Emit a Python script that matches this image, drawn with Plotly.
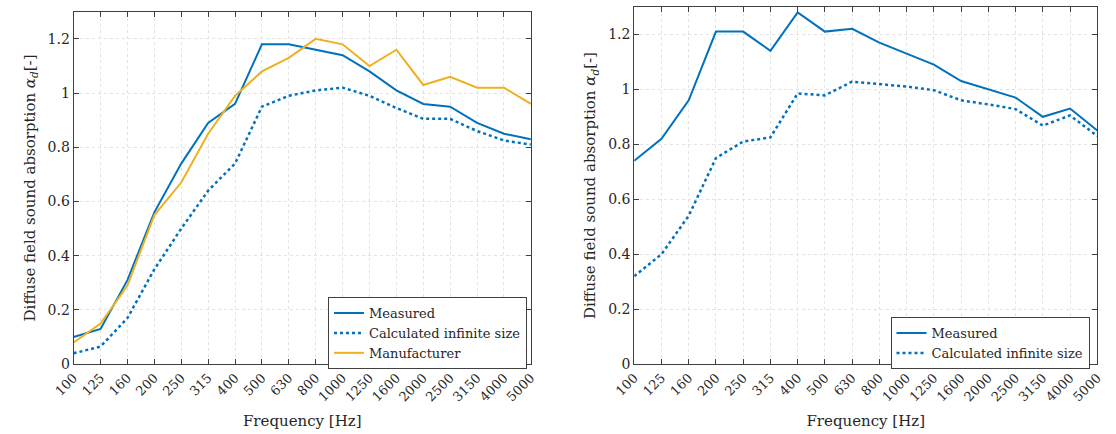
import plotly.graph_objects as go

freqs = ["100", "125", "160", "200", "250", "315", "400", "500", "630", "800",
         "1000", "1250", "1600", "2000", "2500", "3150", "4000", "5000"]

left_measured = [0.10, 0.13, 0.31, 0.56, 0.74, 0.89, 0.96, 1.18, 1.18, 1.16,
                 1.14, 1.08, 1.01, 0.96, 0.95, 0.89, 0.85, 0.83]
left_calculated = [0.04, 0.065, 0.17, 0.35, 0.50, 0.64, 0.74, 0.95, 0.99, 1.01,
                   1.02, 0.99, 0.945, 0.905, 0.905, 0.86, 0.825, 0.81]
left_manufacturer = [0.08, 0.15, 0.29, 0.55, 0.67, 0.85, 0.99, 1.08, 1.13, 1.20,
                     1.18, 1.10, 1.16, 1.03, 1.06, 1.02, 1.02, 0.96]

right_measured = [0.74, 0.82, 0.96, 1.21, 1.21, 1.14, 1.28, 1.21, 1.22, 1.17,
                  1.13, 1.09, 1.03, 1.00, 0.97, 0.90, 0.93, 0.85]
right_calculated = [0.32, 0.40, 0.54, 0.75, 0.81, 0.825, 0.985, 0.978, 1.028, 1.02,
                    1.01, 0.997, 0.96, 0.945, 0.928, 0.868, 0.905, 0.83]

y_tickvals = [0, 0.2, 0.4, 0.6, 0.8, 1.0, 1.2]
y_ticktext = ["0", "0.2", "0.4", "0.6", "0.8", "1", "1.2"]

BLUE = "#0072BD"
YELLOW = "#EDB120"
FONT = "'DejaVu Serif', 'Liberation Serif', serif"
AXCOL = "#404040"
TXT = "#262626"

fig = go.Figure()

fig.add_trace(go.Scatter(x=freqs, y=left_measured, mode="lines", name="Measured",
                         line=dict(color=BLUE, width=2), xaxis="x", yaxis="y", legend="legend"))
fig.add_trace(go.Scatter(x=freqs, y=left_calculated, mode="lines", name="Calculated infinite size",
                         line=dict(color=BLUE, width=2.5, dash="dot"), xaxis="x", yaxis="y", legend="legend"))
fig.add_trace(go.Scatter(x=freqs, y=left_manufacturer, mode="lines", name="Manufacturer",
                         line=dict(color=YELLOW, width=2), xaxis="x", yaxis="y", legend="legend"))

fig.add_trace(go.Scatter(x=freqs, y=right_measured, mode="lines", name="Measured",
                         line=dict(color=BLUE, width=2), xaxis="x2", yaxis="y2", legend="legend2"))
fig.add_trace(go.Scatter(x=freqs, y=right_calculated, mode="lines", name="Calculated infinite size",
                         line=dict(color=BLUE, width=2.5, dash="dot"), xaxis="x2", yaxis="y2", legend="legend2"))

W, H = 1116, 434

def xax(domain, anchor):
    return dict(domain=domain, anchor=anchor, type="category", range=[0, 17],
                categoryorder="array", categoryarray=freqs,
                tickangle=-45, ticks="inside", ticklen=5, tickcolor=AXCOL,
                showline=True, linecolor=AXCOL, linewidth=1, mirror="ticks",
                showgrid=True, gridcolor="#e3e3e3", griddash="dot", gridwidth=1,
                zeroline=False,
                tickfont=dict(family=FONT, size=13, color=TXT),
                title=dict(text="Frequency [Hz]", font=dict(family=FONT, size=15, color=TXT),
                           standoff=12))

def yax(domain, anchor):
    return dict(domain=domain, anchor=anchor, range=[0, 1.3],
                tickvals=y_tickvals, ticktext=y_ticktext,
                ticks="inside", ticklen=5, tickcolor=AXCOL,
                showline=True, linecolor=AXCOL, linewidth=1, mirror="ticks",
                showgrid=True, gridcolor="#e3e3e3", griddash="dot", gridwidth=1,
                zeroline=False,
                tickfont=dict(family=FONT, size=14, color=TXT),
                title=dict(text="Diffuse field sound absorption <i>α<sub>d</sub></i>[-]",
                           font=dict(family=FONT, size=15, color=TXT), standoff=8))

legend_common = dict(bgcolor="white", bordercolor="#404040", borderwidth=1,
                     font=dict(family=FONT, size=13, color=TXT),
                     xanchor="right", yanchor="bottom", tracegroupgap=0,
                     itemwidth=30)

fig.update_layout(
    width=W, height=H,
    margin=dict(l=0, r=0, t=0, b=0),
    paper_bgcolor="white", plot_bgcolor="white",
    font=dict(family=FONT, color=TXT),
    xaxis=xax([54 / W, 523 / W], "y"),
    yaxis=yax([(H - 371) / H, 1 - 12 / H], "x"),
    xaxis2=xax([629 / W, 1104 / W], "y2"),
    yaxis2=yax([(H - 371) / H, 1 - 7 / H], "x2"),
    legend=dict(x=519 / W, y=(H - 376) / H, **legend_common),
    legend2=dict(x=1096 / W, y=(H - 376) / H, **legend_common),
)

fig.write_html("out.html")
